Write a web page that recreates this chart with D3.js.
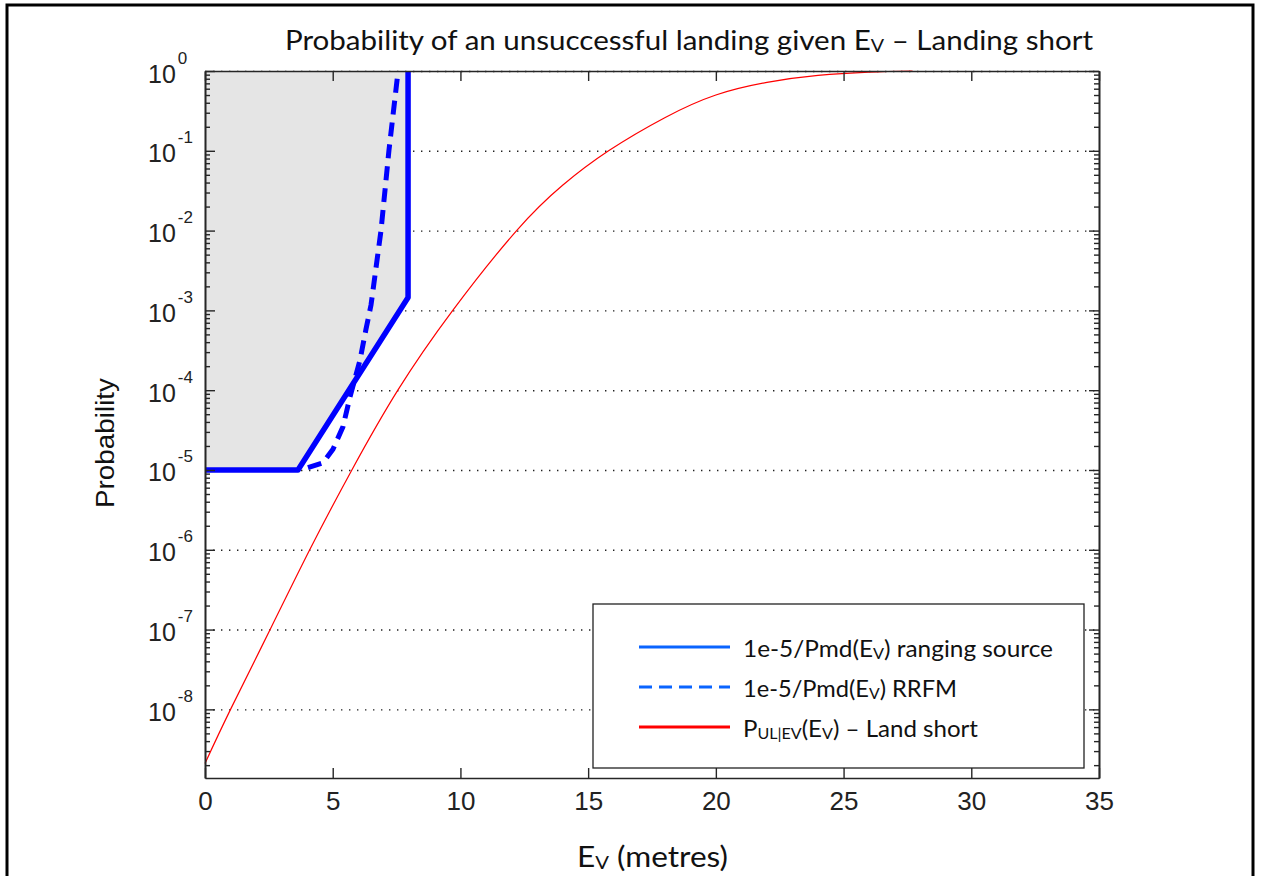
<!DOCTYPE html>
<html>
<head>
<meta charset="utf-8">
<script src="https://cdn.jsdelivr.net/npm/d3@7"></script>
<style>
  body { margin: 0; background: #fff; }
  svg { display: block; }
</style>
</head>
<body>
<div id="chart"></div>
<script>
// red curve: P(UL|Ev), land short
const redEv = [0, 1, 2.55, 4.1, 5.75, 7.55, 9.7, 12.2, 14, 15.8, 18, 20, 22, 24, 26, 27.7];
const redP = [2.1e-9, 1e-8, 1e-7, 1e-6, 1e-5, 1e-4, 1e-3, 1e-2, 3.7e-2, 1e-1, 0.26, 0.5, 0.72, 0.88, 0.966, 1];
// 1e-5/Pmd(Ev) ranging source (solid)
const solidEv = [0, 3.64, 7.95, 7.95];
const solidP = [1e-5, 1e-5, 1.45e-3, 1];
// 1e-5/Pmd(Ev) RRFM (dashed)
const dashEv = [4.03, 4.62, 5.01, 5.40, 5.68, 6.07, 6.30, 6.50, 6.89, 7.20, 7.54];
const dashP = [1.07e-5, 1.23e-5, 1.82e-5, 3.47e-5, 8.3e-5, 2.4e-4, 5.75e-4, 1.17e-3, 1e-2, 1e-1, 0.88];

const xTicks = [0, 5, 10, 15, 20, 25, 30, 35];
const yDecades = [1e-8, 1e-7, 1e-6, 1e-5, 1e-4, 1e-3, 1e-2, 1e-1, 1];
const yExponents = ['-8', '-7', '-6', '-5', '-4', '-3', '-2', '-1', '0'];

const W = 1261, H = 876;
const pLeft = 205, pRight = 1099, pTop = 71, pBottom = 778;
const axisColor = '#262626';

const svg = d3.select('#chart').append('svg')
    .attr('width', W)
    .attr('height', H);

svg.append('rect').attr('width', W).attr('height', H).attr('fill', '#fff');
// figure frame
svg.append('rect')
    .attr('x', 7).attr('y', 5)
    .attr('width', 1246).attr('height', 880)
    .attr('fill', 'none')
    .attr('stroke', '#000')
    .attr('stroke-width', 3);

const x = d3.scaleLinear().domain([0, 35]).range([pLeft, pRight]);
const y = d3.scaleLog().domain([1.38e-9, 1]).range([pBottom, pTop]);

// grid
const grid = svg.append('g')
    .attr('transform', `translate(${pLeft},0)`)
    .call(d3.axisLeft(y).tickValues(yDecades).tickSize(-(pRight - pLeft)).tickFormat(''));
grid.select('.domain').remove();
grid.selectAll('line')
    .attr('stroke', '#222')
    .attr('stroke-width', 1.4)
    .attr('stroke-dasharray', '1.4,6.6');

const line = d3.line()
    .x(d => x(d[0]))
    .y(d => y(d[1]));

// grey region above the ranging source limit
const fillPts = solidEv.map((e, i) => [e, solidP[i]]).concat([[0, 1]]);
svg.append('path')
    .attr('d', line(fillPts) + 'Z')
    .attr('fill', '#e5e5e5');

// dashed RRFM
svg.append('path')
    .attr('d', line(dashEv.map((e, i) => [e, dashP[i]])))
    .attr('fill', 'none')
    .attr('stroke', '#0000ff')
    .attr('stroke-width', 5)
    .attr('stroke-dasharray', '14,8');

// solid ranging source
svg.append('path')
    .attr('d', line(solidEv.map((e, i) => [e, solidP[i]])))
    .attr('fill', 'none')
    .attr('stroke', '#0000ff')
    .attr('stroke-width', 5.5)
    .attr('stroke-linejoin', 'round');

// red curve
const redLine = d3.line()
    .x(d => x(d[0]))
    .y(d => y(d[1]))
    .curve(d3.curveNatural);
svg.append('path')
    .attr('d', redLine(redEv.map((e, i) => [e, redP[i]])))
    .attr('fill', 'none')
    .attr('stroke', '#ff0000')
    .attr('stroke-width', 1.2);

// minor log ticks
const minorTicks = [];
for (let k = -9; k < 0; k++) {
    for (let m = 2; m <= 9; m++) {
        const v = m * Math.pow(10, k);
        if (v >= 1.38e-9 && v < 1) minorTicks.push(v);
    }
}

function styleAxis(g) {
    g.select('.domain').attr('stroke', axisColor).attr('stroke-width', 1.6);
    g.selectAll('.tick line').attr('stroke', axisColor).attr('stroke-width', 1.4);
}

// x axes
const xAxisB = svg.append('g')
    .attr('transform', `translate(0,${pBottom})`)
    .call(d3.axisBottom(x).tickValues(xTicks).tickSize(-10).tickSizeOuter(0).tickFormat(d3.format('d')));
styleAxis(xAxisB);
xAxisB.selectAll('.tick text')
    .attr('font-family', '"Liberation Sans", Arial, sans-serif')
    .attr('font-size', 26)
    .attr('fill', '#222')
    .attr('dy', 0)
    .attr('y', 32);

const xAxisT = svg.append('g')
    .attr('transform', `translate(0,${pTop})`)
    .call(d3.axisTop(x).tickValues(xTicks).tickSize(-10).tickSizeOuter(0).tickFormat(''));
styleAxis(xAxisT);

// y axes
const yAxisL = svg.append('g')
    .attr('transform', `translate(${pLeft},0)`)
    .call(d3.axisLeft(y).tickValues(yDecades).tickSize(-10).tickSizeOuter(0).tickFormat(''));
styleAxis(yAxisL);
yAxisL.selectAll('.tick text').remove();
yAxisL.selectAll('.tick').each(function(d, i) {
    const t = d3.select(this).append('text')
        .attr('x', 148 - pLeft)
        .attr('y', 11)
        .attr('text-anchor', 'start')
        .attr('font-family', '"Liberation Sans", Arial, sans-serif')
        .attr('fill', '#222');
    t.append('tspan').attr('font-size', 25).text('10');
    t.append('tspan').attr('font-size', 17).attr('dx', 2).attr('dy', -19).text(yExponents[i]);
});

const yMinorL = svg.append('g')
    .attr('transform', `translate(${pLeft},0)`)
    .call(d3.axisLeft(y).tickValues(minorTicks).tickSize(-5).tickSizeOuter(0).tickFormat(''));
styleAxis(yMinorL);

const yAxisR = svg.append('g')
    .attr('transform', `translate(${pRight},0)`)
    .call(d3.axisRight(y).tickValues(yDecades).tickSize(-10).tickSizeOuter(0).tickFormat(''));
styleAxis(yAxisR);
const yMinorR = svg.append('g')
    .attr('transform', `translate(${pRight},0)`)
    .call(d3.axisRight(y).tickValues(minorTicks).tickSize(-5).tickSizeOuter(0).tickFormat(''));
styleAxis(yMinorR);

// title
const titleFont = 'Lato, "Open Sans", sans-serif';
const title = svg.append('text')
    .attr('x', 285).attr('y', 50)
    .attr('font-family', titleFont)
    .attr('font-size', 27)
    .attr('fill', '#111')
    .attr('textLength', 808)
    .attr('lengthAdjust', 'spacingAndGlyphs');
title.append('tspan').text('Probability of an unsuccessful landing given E');
title.append('tspan').attr('font-size', 18).attr('dy', 2).text('V');
title.append('tspan').attr('dy', -2).text(' \u2013 Landing short');

// x label
const xLab = svg.append('text')
    .attr('x', 577).attr('y', 867)
    .attr('font-family', titleFont)
    .attr('font-size', 28)
    .attr('fill', '#111')
    .attr('textLength', 151)
    .attr('lengthAdjust', 'spacingAndGlyphs');
xLab.append('tspan').text('E');
xLab.append('tspan').attr('font-size', 18).attr('dy', 2).text('V');
xLab.append('tspan').attr('dy', -2).text(' (metres)');

// y label
svg.append('text')
    .attr('transform', 'translate(114,443) rotate(-90)')
    .attr('text-anchor', 'middle')
    .attr('font-family', '"Liberation Sans", Arial, sans-serif')
    .attr('font-size', 26)
    .attr('fill', '#111')
    .attr('textLength', 130)
    .attr('lengthAdjust', 'spacingAndGlyphs')
    .text('Probability');

// legend
const legend = svg.append('g');
legend.append('rect')
    .attr('x', 593).attr('y', 604)
    .attr('width', 491).attr('height', 164)
    .attr('fill', '#fff')
    .attr('stroke', '#222')
    .attr('stroke-width', 1.3);

const legendRows = [
    {y: 647, color: '#0a64ff', dash: null, len: 310,
     parts: [['1e-5/Pmd(E', false], ['V', true], [') ranging source', false]]},
    {y: 687, color: '#0a64ff', dash: '13,7', len: 214,
     parts: [['1e-5/Pmd(E', false], ['V', true], [') RRFM', false]]},
    {y: 727, color: '#ff0000', dash: null, len: 235,
     parts: [['P', false], ['UL|EV', true], ['(E', false], ['V', true], [') \u2013 Land short', false]]}
];

legendRows.forEach(r => {
    legend.append('line')
        .attr('x1', 639).attr('x2', 730)
        .attr('y1', r.y).attr('y2', r.y)
        .attr('stroke', r.color)
        .attr('stroke-width', 3)
        .attr('stroke-dasharray', r.dash);
    const t = legend.append('text')
        .attr('x', 743).attr('y', r.y + 10)
        .attr('font-family', titleFont)
        .attr('font-size', 24)
        .attr('fill', '#111')
        .attr('textLength', r.len)
        .attr('lengthAdjust', 'spacingAndGlyphs');
    let sub = false;
    r.parts.forEach(p => {
        const ts = t.append('tspan').text(p[0]);
        if (p[1] && !sub) { ts.attr('font-size', 16).attr('dy', 2); sub = true; }
        else if (!p[1] && sub) { ts.attr('dy', -2); sub = false; }
        else if (p[1]) ts.attr('font-size', 16);
    });
});
</script>
</body>
</html>
